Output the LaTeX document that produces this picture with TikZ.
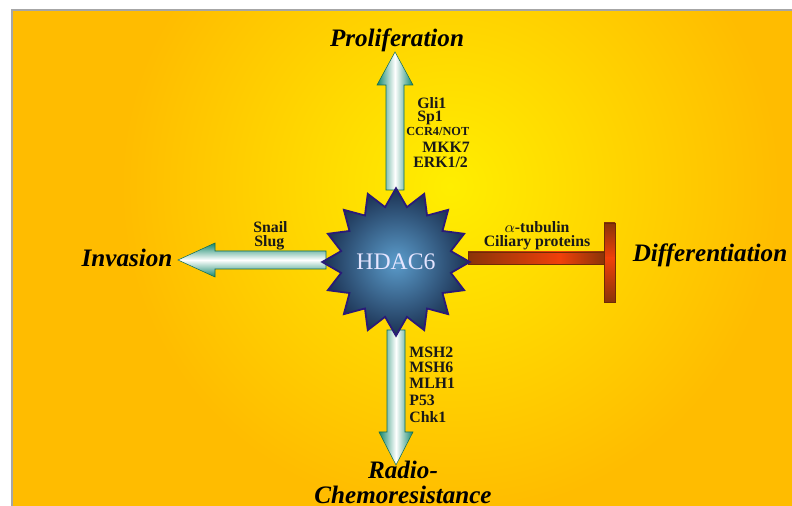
\documentclass[tikz,border=0pt]{standalone}
\usepackage{fontspec}
\setmainfont{Liberation Serif}
\usetikzlibrary{shapes.geometric}
\definecolor{bgorange}{HTML}{FFBC00}
\definecolor{bgyellow}{HTML}{FFEE00}
\definecolor{arrowteal}{HTML}{13876A}
\definecolor{barbrown}{HTML}{8A3408}
\definecolor{barred}{HTML}{F0400A}
\definecolor{starblue}{HTML}{5B9CCB}
\definecolor{stardark}{HTML}{1B3152}
\definecolor{staredge}{HTML}{2A1A78}
\begin{document}
\begin{tikzpicture}[x=0.02cm,y=0.02cm,
  title/.style={font=\fontsize{14.3}{16}\selectfont\bfseries\itshape},
  gene/.style={font=\fontsize{9}{10}\selectfont\bfseries, text=black!90, inner sep=0pt, anchor=west},
  fatarrow/.style={draw=arrowteal!80!black, line width=0.3pt},
  bar/.style={draw=barbrown!80!black, line width=0.3pt}]
\useasboundingbox (0,0) rectangle (792,506);
% background panel
\fill[white] (0,0) rectangle (792,506);
\begin{scope}
\clip (12,0) rectangle (792,496);
\fill[bgorange] (12,0) rectangle (792,496);
\shade[inner color=bgyellow, outer color=bgorange] (450,320) circle (330);
\end{scope}
\draw[gray!70, line width=0.6pt] (12,0) -- (12,496) -- (792,496);
% block arrows
\shadedraw[fatarrow, left color=arrowteal, right color=arrowteal, middle color=white]
  (386,316) -- (386,421) -- (377,421) -- (395,454) -- (413,421) -- (404,421) -- (404,316) -- cycle;
\shadedraw[fatarrow, left color=arrowteal, right color=arrowteal, middle color=white]
  (387,176) -- (387,74) -- (379,74) -- (396,41) -- (413,74) -- (405,74) -- (405,176) -- cycle;
\shadedraw[fatarrow, top color=arrowteal, bottom color=arrowteal, middle color=white]
  (326,237) -- (215,237) -- (215,229) -- (178,246) -- (215,263) -- (215,255) -- (326,255) -- cycle;
% inhibition bar
\shade[left color=barbrown, right color=barred] (468,242) rectangle (560,254);
\shade[left color=barred, right color=barbrown] (560,242) rectangle (604,254);
\shade[top color=barbrown, bottom color=barred] (604,248) rectangle (615,283);
\shade[top color=barred, bottom color=barbrown] (604,204) rectangle (615,248);
\draw[bar] (468,242) rectangle (604,254);
\draw[bar] (604,204) rectangle (615,283);
% HDAC6
\node[star, star points=16, star point ratio=1.32, minimum size=2.72cm, inner sep=0pt,
  shading=radial, inner color=starblue, outer color=stardark, draw=staredge, line width=1pt,
  text=white!90!blue, font=\fontsize{13.5}{15}\selectfont] (hdac) at (396,244) {HDAC6};
% outcomes
\node[title] (prolif) at (397,466) {Proliferation};
\node[title] (inv) at (127,248) {Invasion};
\node[title] (diff) at (710,251) {Differentiation};
\node[title, font=\fontsize{14.3}{14}\selectfont\bfseries\itshape, align=center, anchor=south, inner sep=0pt]
  (chemo) at (403,2) {Radio-\\Chemoresistance};
% mediators
\node[gene] (gli) at (417,403) {Gli1};
\node[gene] (sp) at (417,388) {Sp1};
\node[gene, font=\fontsize{7}{8}\selectfont\bfseries] (ccr) at (406,374) {CCR4/NOT};
\node[gene] (mkk) at (422,359) {MKK7};
\node[gene] (erk) at (413,344) {ERK1/2};
\node[gene] (snail) at (253,279) {Snail};
\node[gene] (slug) at (254,263) {Slug};
\node[gene, anchor=center] (tub) at (537,279) {$\alpha$-tubulin};
\node[gene, anchor=center] (cil) at (537,263) {Ciliary proteins};
\node[gene] (msh2) at (409,154) {MSH2};
\node[gene] (msh6) at (409,139) {MSH6};
\node[gene] (mlh) at (409,123) {MLH1};
\node[gene] (p53) at (409,106) {P53};
\node[gene] (chk) at (409,89) {Chk1};
\end{tikzpicture}
\end{document}
